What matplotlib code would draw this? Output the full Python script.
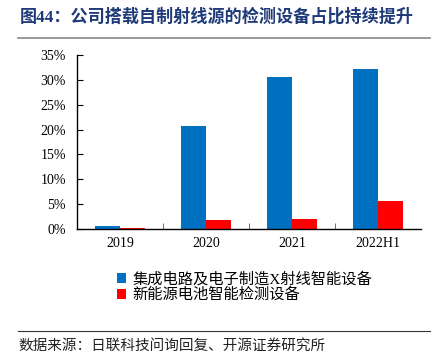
import numpy as np
import matplotlib
matplotlib.use("Agg")
import matplotlib.pyplot as plt
from matplotlib.ticker import PercentFormatter

plt.rcParams['font.family'] = ['Liberation Serif', 'Noto Sans CJK SC']

# data
years = ['2019', '2020', '2021', '2022H1']
xray_share = [0.66, 20.7, 30.6, 32.2]      # 集成电路及电子制造X射线智能设备
battery_share = [0.27, 1.8, 2.05, 5.6]     # 新能源电池智能检测设备
series_names = ['集成电路及电子制造X射线智能设备', '新能源电池智能检测设备']

fig = plt.figure(figsize=(4.43, 3.64), dpi=100)
ax = fig.add_axes([0.174, 0.371, 0.776, 0.478])

x = np.arange(len(years))
w = 0.29
ax.bar(x - w / 2, xray_share, w, color='#0070C0', label=series_names[0])
ax.bar(x + w / 2, battery_share, w, color='#FF0000', label=series_names[1])

ax.set_xlim(-0.5, len(years) - 0.5)
ax.set_ylim(0, 35)
ax.set_yticks(np.arange(0, 36, 5))
ax.yaxis.set_major_formatter(PercentFormatter(decimals=0))
ax.set_xticks(x)
ax.set_xticklabels(years)
ax.set_xticks(np.arange(0.5, len(years) - 1, 1), minor=True)
ax.tick_params(axis='x', which='major', length=0, labelsize=10, pad=6)
ax.tick_params(axis='x', which='minor', direction='in', length=4, color='#555555')
ax.tick_params(axis='y', direction='in', length=4, labelsize=10, pad=8)

for s in ['top', 'right']:
    ax.spines[s].set_visible(False)
for s in ['left', 'bottom']:
    ax.spines[s].set_linewidth(1.0)

ax.legend(loc='upper left', bbox_to_anchor=(0.115, -0.245), frameon=False,
          borderpad=0, borderaxespad=0,
          handlelength=0.6, handleheight=0.6, handletextpad=0.45,
          labelspacing=0.08, prop={'family': ['Liberation Serif', 'Noto Sans CJK SC'], 'size': 11})

# title and source
fig.text(0.045, 0.953, '图44：公司搭载自制射线源的检测设备占比持续提升',
         fontsize=12.3, fontweight='bold', color='#1F3A78', va='center',
         family=['Liberation Serif', 'Noto Sans CJK SC'])
fig.add_artist(plt.Line2D([0.04, 0.97], [0.896, 0.896], color='#888888', lw=1.2))
fig.add_artist(plt.Line2D([0.04, 0.97], [0.091, 0.091], color='#333333', lw=0.8))
fig.text(0.041, 0.05, '数据来源：日联科技问询回复、开源证券研究所', fontsize=10.5,
         color='#222222', va='center', family=['Noto Sans CJK SC'])

fig.savefig('out.png', dpi=100)
